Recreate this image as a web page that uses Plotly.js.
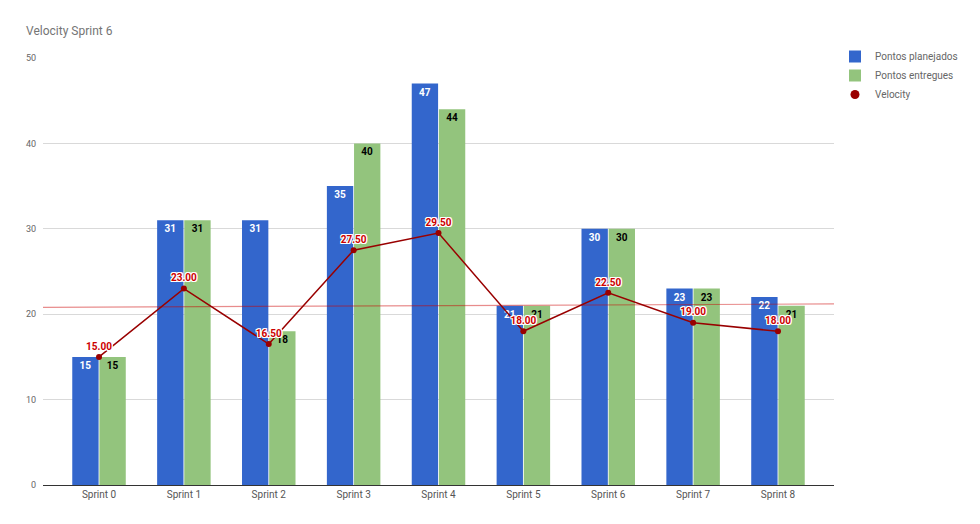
<!DOCTYPE html>
<html>
<head>
<meta charset="utf-8">
<script src="https://cdn.plot.ly/plotly-3.0.1.min.js"></script>
<style>html,body{margin:0;padding:0;background:#fff;}#chart{width:980px;height:524px;}</style>
</head>
<body>
<div id="chart"></div>
<script>
const categories = ["Sprint 0","Sprint 1","Sprint 2","Sprint 3","Sprint 4","Sprint 5","Sprint 6","Sprint 7","Sprint 8"];
const planejados = [15, 31, 31, 35, 47, 21, 30, 23, 22];
const entregues = [15, 31, 18, 40, 44, 21, 30, 23, 21];
const velocity = [15.00, 23.00, 16.50, 27.50, 29.50, 18.00, 22.50, 19.00, 18.00];
const trendX = [-0.66, 8.66];
const trendY = [20.8, 21.2];
const yTicks = [0, 10, 20, 30, 40, 50];

const idx = categories.map((c, i) => i);
const font = "Roboto, 'Open Sans', sans-serif";
const halo = "1px 1px 0 #fff, -1px -1px 0 #fff, 1px -1px 0 #fff, -1px 1px 0 #fff, 0 1px 0 #fff, 0 -1px 0 #fff, 1px 0 0 #fff, -1px 0 0 #fff";

const traces = [
  {
    type: 'bar', name: 'Pontos planejados', x: idx, y: planejados,
    marker: {color: '#3366cc'},
    text: planejados.map(String), textposition: 'inside', insidetextanchor: 'end',
    textangle: 0, constraintext: 'none',
    insidetextfont: {color: '#ffffff', size: 10, family: font, weight: 'bold'},
    hoverinfo: 'skip'
  },
  {
    type: 'bar', name: 'Pontos entregues', x: idx, y: entregues,
    marker: {color: '#93c47d'},
    text: entregues.map(String), textposition: 'inside', insidetextanchor: 'end',
    textangle: 0, constraintext: 'none',
    insidetextfont: {color: '#000000', size: 10, family: font, weight: 'bold'},
    hoverinfo: 'skip'
  },
  {
    type: 'scatter', mode: 'lines', x: trendX, y: trendY, showlegend: false,
    line: {color: 'rgba(204,0,0,0.45)', width: 1.2}, hoverinfo: 'skip'
  },
  {
    type: 'scatter', mode: 'lines+markers+text', x: idx, y: velocity, showlegend: false,
    line: {color: '#990000', width: 1.5},
    marker: {color: '#990000', size: 6},
    text: velocity.map(v => v.toFixed(2)), textposition: 'top center',
    textfont: {color: '#cc0000', size: 10, family: font, weight: 'bold', shadow: halo},
    hoverinfo: 'skip'
  },
  {
    type: 'scatter', mode: 'markers', name: 'Velocity', x: [null], y: [null],
    marker: {color: '#990000', size: 9}, hoverinfo: 'skip'
  }
];

const layout = {
  width: 980, height: 524,
  margin: {l: 43, r: 146, t: 58, b: 39, autoexpand: false},
  paper_bgcolor: '#ffffff', plot_bgcolor: '#ffffff',
  font: {family: font, color: '#757575'},
  title: {
    text: 'Velocity Sprint 6', xref: 'container', yref: 'container',
    x: 26/980, xanchor: 'left', y: 1 - 31/524, yanchor: 'middle',
    font: {size: 12, color: '#757575', family: font}
  },
  barmode: 'group', bargap: 0.36, bargroupgap: 0.03,
  xaxis: {
    range: [-0.66, 8.66], tickmode: 'array', tickvals: idx, ticktext: categories,
    showgrid: false, zeroline: false, showline: true, linecolor: '#333333', linewidth: 1,
    ticks: '', tickfont: {size: 10, color: '#555555', family: font}, fixedrange: true
  },
  yaxis: {
    range: [0, 50], tickmode: 'array', tickvals: yTicks,
    showgrid: true, gridcolor: '#d9d9d9', gridwidth: 1,
    zeroline: false, showline: false, ticks: '',
    tickfont: {size: 9, color: '#666666', family: font}, ticklabelstandoff: 6
  },
  legend: {
    xref: 'container', yref: 'container',
    x: 835/980, xanchor: 'left', y: 1 - 42/524, yanchor: 'top',
    font: {size: 10, color: '#666666', family: font},
    bgcolor: 'rgba(0,0,0,0)', tracegroupgap: 0, itemwidth: 30
  },
  showlegend: true
};

Plotly.newPlot('chart', traces, layout, {displayModeBar: false, staticPlot: true});
</script>
</body>
</html>
